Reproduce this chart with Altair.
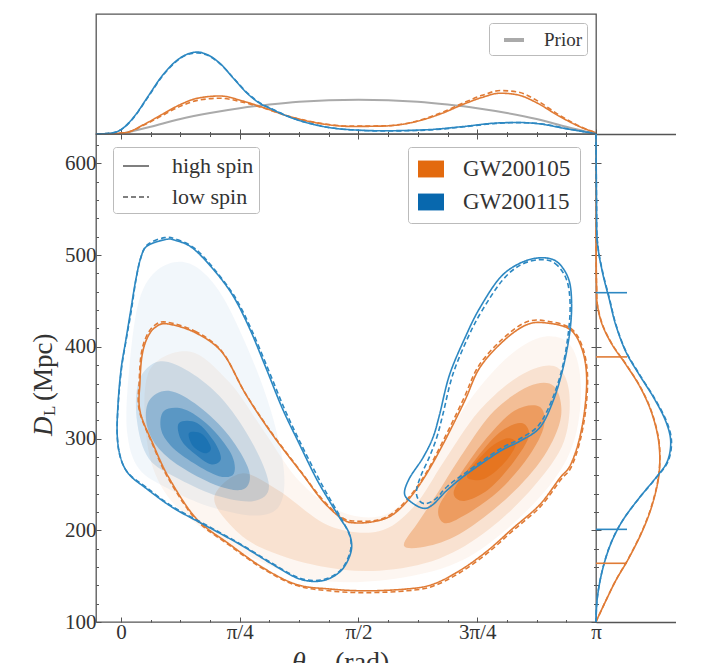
import math
import altair as alt
import pandas as pd

PI = math.pi

EVENTS = ["GW200105", "GW200115"]
SPINS = ["high spin", "low spin"]
PRIOR_LABEL = ["Prior"]
X_TICK_LABELS = ["0", "π/4", "π/2", "3π/4", "π"]

# ---------------- main panel: 90% contours (theta_JN [rad], D_L [Mpc]) ----------------
gw105_high = [(0.307, 425), (0.497, 415), (0.674, 393), (0.826, 348), (1.003, 304), (1.201, 261),
              (1.334, 232), (1.467, 212), (1.555, 208), (1.688, 210), (1.798, 217), (1.909, 235),
              (2.019, 261), (2.140, 297), (2.273, 341), (2.372, 377), (2.527, 406), (2.682, 424),
              (2.814, 426), (2.969, 419), (3.046, 399), (3.079, 370), (3.068, 333), (3.028, 297),
              (2.969, 270), (2.903, 257), (2.770, 228), (2.591, 202), (2.419, 177), (2.240, 156),
              (2.061, 141), (1.889, 136), (1.624, 134), (1.378, 136), (1.160, 141), (0.941, 159),
              (0.716, 185), (0.497, 213), (0.318, 257), (0.212, 294), (0.126, 330), (0.126, 362),
              (0.139, 390), (0.172, 409), (0.225, 421)]
gw105_low = [(0.300, 427), (0.490, 417), (0.668, 395), (0.820, 350), (0.998, 306), (1.195, 263),
             (1.330, 234), (1.460, 214), (1.550, 210), (1.690, 211), (1.800, 219), (1.910, 237),
             (2.020, 263), (2.135, 299), (2.265, 343), (2.365, 379), (2.520, 408), (2.680, 427),
             (2.820, 428), (2.975, 420), (3.052, 400), (3.085, 370), (3.074, 332), (3.034, 296),
             (2.975, 268), (2.908, 255), (2.775, 226), (2.595, 200), (2.423, 175), (2.243, 154),
             (2.063, 139), (1.890, 134), (1.620, 132), (1.375, 134), (1.158, 140), (0.940, 158),
             (0.714, 184), (0.495, 212), (0.315, 256), (0.208, 294), (0.121, 331), (0.121, 363),
             (0.134, 392), (0.167, 411), (0.220, 423)]
gw115_left_high = [(0.296, 517), (0.362, 516), (0.471, 508), (0.603, 486), (0.736, 457), (0.848, 421),
                   (0.959, 377), (1.067, 333), (1.180, 294), (1.290, 257), (1.378, 232), (1.445, 214),
                   (1.511, 196), (1.522, 177), (1.456, 156), (1.332, 145), (1.180, 147), (1.001, 163),
                   (0.782, 185), (0.561, 205), (0.340, 225), (0.164, 246), (0.053, 261), (-0.002, 279),
                   (-0.025, 305), (-0.018, 341), (0.002, 377), (0.031, 406), (0.064, 439), (0.097, 472),
                   (0.131, 497), (0.174, 510)]
gw115_left_low = [(0.290, 519), (0.370, 517), (0.490, 507), (0.620, 484), (0.755, 454), (0.865, 418),
                  (0.975, 375), (1.085, 331), (1.200, 291), (1.315, 254), (1.400, 229), (1.460, 212),
                  (1.515, 193), (1.515, 176), (1.450, 156), (1.330, 146), (1.180, 148), (1.000, 164),
                  (0.780, 186), (0.560, 206), (0.340, 226), (0.165, 247), (0.050, 262), (-0.005, 280),
                  (-0.025, 306), (-0.016, 342), (0.005, 378), (0.035, 408), (0.070, 441), (0.100, 474),
                  (0.135, 499), (0.180, 512)]
gw115_right_high = [(2.770, 497), (2.881, 493), (2.958, 475), (2.980, 450), (2.969, 417), (2.924, 377),
                    (2.858, 341), (2.770, 312), (2.637, 297), (2.505, 286), (2.284, 261), (2.152, 243),
                    (2.063, 228), (1.997, 224), (1.909, 232), (1.875, 241), (1.909, 257), (1.997, 279),
                    (2.063, 301), (2.107, 326), (2.174, 370), (2.284, 413), (2.372, 442), (2.505, 475),
                    (2.637, 491)]
gw115_right_low = [(2.770, 495), (2.870, 491), (2.945, 474), (2.970, 449), (2.960, 417), (2.920, 378),
                   (2.850, 342), (2.760, 314), (2.630, 299), (2.500, 288), (2.290, 264), (2.160, 248),
                   (2.080, 234), (2.010, 229), (1.965, 234), (1.955, 244), (1.985, 260), (2.040, 280),
                   (2.090, 302), (2.130, 327), (2.195, 370), (2.300, 412), (2.390, 440), (2.520, 472),
                   (2.640, 489)]

# ---------------- main panel: density shading, iso-density outlines (outer -> inner) ----------------
gw105_shade = [
    [(0.185, 373), (0.450, 395), (0.714, 362), (0.946, 308), (1.177, 254), (1.442, 221), (1.706, 215),
     (1.905, 237), (2.103, 286), (2.302, 341), (2.566, 390), (2.798, 411), (2.976, 401), (3.042, 357),
     (2.996, 297), (2.831, 248), (2.500, 194), (2.169, 161), (1.706, 145), (1.243, 147), (0.847, 172),
     (0.516, 205), (0.284, 243), (0.172, 297)],
    [(0.620, 238), (0.800, 262), (1.045, 243), (1.376, 205), (1.706, 199), (1.938, 226), (2.136, 275),
     (2.368, 330), (2.632, 368), (2.864, 379), (2.963, 352), (2.930, 297), (2.731, 248), (2.434, 201),
     (2.103, 169), (1.706, 156), (1.310, 161), (0.913, 182), (0.700, 210)],
    [(1.971, 210), (2.103, 243), (2.269, 286), (2.467, 330), (2.698, 357), (2.864, 357), (2.910, 324),
     (2.798, 281), (2.566, 237), (2.269, 199), (2.037, 183), (1.872, 183)],
    [(2.103, 226), (2.235, 259), (2.401, 297), (2.599, 330), (2.765, 335), (2.798, 314), (2.698, 281),
     (2.500, 243), (2.269, 216), (2.136, 208)],
    [(2.202, 243), (2.335, 275), (2.500, 306), (2.646, 317), (2.698, 303), (2.599, 275), (2.434, 245),
     (2.269, 232)],
    [(2.288, 259), (2.414, 286), (2.546, 300), (2.612, 294), (2.533, 273), (2.401, 256)],
]
gw115_shade = [
    [(0.119, 450), (0.251, 485), (0.450, 491), (0.648, 461), (0.847, 395), (0.992, 330), (1.078, 265),
     (1.045, 226), (0.880, 216), (0.582, 226), (0.317, 245), (0.119, 267), (0.040, 308), (0.053, 373)],
    [(0.119, 363), (0.251, 384), (0.450, 373), (0.681, 341), (0.880, 292), (0.979, 248), (0.880, 232),
     (0.648, 237), (0.384, 256), (0.185, 278), (0.106, 319)],
    [(0.185, 341), (0.317, 352), (0.516, 335), (0.714, 303), (0.847, 265), (0.813, 245), (0.648, 248),
     (0.417, 267), (0.251, 289), (0.172, 314)],
    [(0.284, 330), (0.417, 332), (0.582, 314), (0.727, 284), (0.747, 262), (0.648, 259), (0.483, 273),
     (0.331, 292), (0.265, 310)],
    [(0.384, 317), (0.503, 317), (0.615, 297), (0.661, 278), (0.595, 272), (0.483, 284), (0.397, 299)],
    [(0.450, 306), (0.536, 305), (0.595, 290), (0.556, 284), (0.476, 292)],
]

# ---------------- top panel: theta_JN marginals (theta [rad], relative density) ----------------
top_gw115_high = [(-0.165, 0), (-0.062, 0.008), (0.0, 0.036), (0.088, 0.146), (0.178, 0.311), (0.267, 0.476),
                  (0.357, 0.600), (0.446, 0.669), (0.506, 0.683), (0.566, 0.664), (0.656, 0.587),
                  (0.745, 0.463), (0.835, 0.339), (0.925, 0.250), (0.984, 0.215), (1.104, 0.146),
                  (1.283, 0.077), (1.462, 0.041), (1.731, 0.027), (2.030, 0.036), (2.269, 0.063),
                  (2.478, 0.091), (2.627, 0.096), (2.777, 0.083), (2.956, 0.041), (3.1416, 0.003)]
top_gw115_low = [(-0.165, 0), (-0.062, 0.008), (0.0, 0.036), (0.088, 0.142), (0.178, 0.305), (0.267, 0.470),
                 (0.357, 0.595), (0.446, 0.665), (0.506, 0.676), (0.566, 0.660), (0.656, 0.585),
                 (0.745, 0.465), (0.835, 0.343), (0.925, 0.255), (0.984, 0.218), (1.104, 0.148),
                 (1.283, 0.078), (1.462, 0.040), (1.731, 0.025), (2.030, 0.033), (2.269, 0.060),
                 (2.478, 0.088), (2.627, 0.095), (2.777, 0.085), (2.956, 0.043), (3.1416, 0.003)]
top_gw105_high = [(-0.165, 0), (0.028, 0.011), (0.148, 0.077), (0.267, 0.160), (0.387, 0.242), (0.506, 0.298),
                  (0.655, 0.317), (0.805, 0.275), (0.954, 0.215), (1.104, 0.150), (1.283, 0.095),
                  (1.522, 0.063), (1.731, 0.066), (1.940, 0.100), (2.119, 0.170), (2.269, 0.250),
                  (2.389, 0.305), (2.508, 0.340), (2.627, 0.325), (2.747, 0.262), (2.896, 0.150),
                  (3.045, 0.055), (3.1416, 0.010)]
top_gw105_low = [(-0.165, 0), (0.028, 0.011), (0.148, 0.072), (0.267, 0.150), (0.387, 0.228), (0.506, 0.280),
                 (0.655, 0.298), (0.805, 0.265), (0.954, 0.212), (1.104, 0.150), (1.283, 0.097),
                 (1.522, 0.066), (1.731, 0.068), (1.940, 0.102), (2.119, 0.178), (2.269, 0.262),
                 (2.389, 0.322), (2.508, 0.362), (2.627, 0.350), (2.747, 0.282), (2.896, 0.160),
                 (3.045, 0.058), (3.1416, 0.010)]
top_prior = [(0.0, 0), (0.196, 0.06), (0.393, 0.125), (0.589, 0.175), (0.785, 0.215), (0.982, 0.245),
             (1.178, 0.268), (1.374, 0.281), (1.571, 0.285), (1.767, 0.281), (1.963, 0.268), (2.160, 0.245),
             (2.356, 0.215), (2.553, 0.175), (2.749, 0.125), (2.945, 0.06), (3.1416, 0)]

# ---------------- right panel: D_L marginals (relative density, D_L [Mpc]) ----------------
right_gw115_high = [(0.0, 632), (0.005, 560), (0.013, 515), (0.063, 482), (0.130, 453), (0.197, 424),
                    (0.297, 395), (0.430, 370), (0.580, 344), (0.697, 319), (0.747, 297), (0.713, 275),
                    (0.597, 257), (0.430, 235), (0.263, 210), (0.147, 185), (0.063, 156), (0.013, 126),
                    (0.0, 100)]
right_gw115_low = [(0.0, 632), (0.005, 560), (0.014, 515), (0.066, 482), (0.134, 453), (0.200, 424),
                   (0.300, 395), (0.435, 370), (0.585, 344), (0.705, 319), (0.755, 297), (0.720, 275),
                   (0.600, 257), (0.432, 235), (0.262, 210), (0.145, 185), (0.062, 156), (0.012, 126),
                   (0.0, 100)]
right_gw105_high = [(0.001, 632), (0.002, 500), (0.006, 464), (0.013, 446), (0.063, 424), (0.163, 402),
                    (0.297, 381), (0.447, 355), (0.563, 326), (0.630, 294), (0.630, 261), (0.563, 228),
                    (0.463, 199), (0.330, 170), (0.197, 145), (0.080, 119), (0.003, 101)]
right_gw105_low = [(0.001, 632), (0.002, 500), (0.006, 464), (0.014, 446), (0.066, 424), (0.166, 402),
                   (0.300, 381), (0.450, 355), (0.566, 326), (0.633, 294), (0.628, 261), (0.560, 228),
                   (0.460, 199), (0.328, 170), (0.196, 145), (0.080, 119), (0.003, 101)]
# 90% credible bounds on D_L [Mpc]
interval_gw105 = [164, 389]
interval_gw115 = [201, 459]
INTERVAL_LEN = 0.31

# ---------------- styles ----------------
FILL_COLORS = ["#E36A0E", "#0868AE"]
LINE_COLORS = ["#E07B35", "#2D88C2"]
ALPHA_ORANGE = [0.06, 0.14, 0.30, 0.40, 0.50, 0.55]
ALPHA_BLUE = [0.05, 0.15, 0.30, 0.40, 0.50, 0.50]
FONT = "Liberation Serif"
TXT = "#333333"
AXC = "#555555"
MAIN_W, MAIN_H, SIDE_W, TOP_H = 500, 488, 108, 120

# ---------------- data frames ----------------
def rows_xy(points, xname, yname, **extra):
    return [dict(order=i, **{xname: a, yname: b}, **extra) for i, (a, b) in enumerate(points)]

cont_o = pd.DataFrame(rows_xy(gw105_high, "theta", "dl", event=EVENTS[0], spin=SPINS[0], part="a")
                      + rows_xy(gw105_low, "theta", "dl", event=EVENTS[0], spin=SPINS[1], part="b"))
cont_b = pd.DataFrame(rows_xy(gw115_left_high, "theta", "dl", event=EVENTS[1], spin=SPINS[0], part="a")
                      + rows_xy(gw115_left_low, "theta", "dl", event=EVENTS[1], spin=SPINS[1], part="b")
                      + rows_xy(gw115_right_high, "theta", "dl", event=EVENTS[1], spin=SPINS[0], part="c")
                      + rows_xy(gw115_right_low, "theta", "dl", event=EVENTS[1], spin=SPINS[1], part="d"))
top_df = pd.DataFrame(rows_xy(top_gw105_high, "theta", "dens", event=EVENTS[0], spin=SPINS[0])
                      + rows_xy(top_gw105_low, "theta", "dens", event=EVENTS[0], spin=SPINS[1])
                      + rows_xy(top_gw115_high, "theta", "dens", event=EVENTS[1], spin=SPINS[0])
                      + rows_xy(top_gw115_low, "theta", "dens", event=EVENTS[1], spin=SPINS[1]))
prior_df = pd.DataFrame(rows_xy(top_prior, "theta", "dens", label=PRIOR_LABEL[0]))
right_df = pd.DataFrame(rows_xy(right_gw105_high, "dens", "dl", event=EVENTS[0], spin=SPINS[0])
                        + rows_xy(right_gw105_low, "dens", "dl", event=EVENTS[0], spin=SPINS[1])
                        + rows_xy(right_gw115_high, "dens", "dl", event=EVENTS[1], spin=SPINS[0])
                        + rows_xy(right_gw115_low, "dens", "dl", event=EVENTS[1], spin=SPINS[1]))
ci_df = pd.DataFrame([dict(event=EVENTS[0], dl=v, d0=0.0, d1=INTERVAL_LEN) for v in interval_gw105]
                     + [dict(event=EVENTS[1], dl=v, d0=0.0, d1=INTERVAL_LEN) for v in interval_gw115])

# ---------------- scales & axes ----------------
xs = alt.Scale(domain=[-0.165, PI], nice=False, zero=False)
ys = alt.Scale(domain=[100, 632], nice=False, zero=False)
ds_top = alt.Scale(domain=[0, 1], nice=False, zero=False)
# side panel sits just right of the main panel, sharing its D_L axis
ds_side = alt.Scale(domain=[0, 1.08], range=[MAIN_W, MAIN_W + SIDE_W], nice=False, zero=False)
fill_scale = alt.Scale(domain=EVENTS, range=FILL_COLORS)
stroke_scale = alt.Scale(domain=EVENTS, range=LINE_COLORS)
dash_scale = alt.Scale(domain=SPINS, range=[[1, 0], [5, 3]])

x_major = [0, PI / 4, PI / 2, 3 * PI / 4, PI]
x_minor = [k * PI / 16 for k in range(0, 17) if k % 4 != 0]
y_major = [100, 200, 300, 400, 500, 600]
y_minor = [v for v in range(120, 632, 20) if v % 100 != 0]
label_expr = "[" + ",".join(f"'{s}'" for s in X_TICK_LABELS) + "][round(datum.index*4)]"


def ax(orient, values, size, labels=False, inward=True, **kw):
    d = dict(orient=orient, values=values, tickSize={"expr": str(-size)} if inward else size,
             labels=labels, domain=False, grid=False, title=None, tickColor=AXC, tickWidth=1)
    d.update(kw)
    return alt.Axis(**d)


def frame_axis(orient):
    return alt.Axis(orient=orient, ticks=False, labels=False, grid=False, title=None,
                    domainColor=AXC, domainWidth=1.3)


AX_X_BOTTOM = ax("bottom", x_major, 5, labels=True, labelExpr=label_expr, labelPadding=4,
                 labelFlush=False, labelOverlap=False)
AX_Y_LEFT = ax("left", y_major, 5, labels=True, labelPadding=5)

event_legend = alt.Legend(orient="none", legendX=312, legendY=13, title=None,
                          symbolType="M-1,-0.65H1V0.65H-1Z", symbolSize=676, symbolStrokeWidth=0,
                          symbolOpacity=1, symbolOffset=1, labelFont=FONT, labelFontSize=23,
                          labelColor=TXT, labelOffset=19, rowPadding=8, padding=9,
                          fillColor="white", strokeColor="#bbbbbb", cornerRadius=3)
spin_legend = alt.Legend(orient="none", legendX=17, legendY=13, title=None, symbolType="stroke",
                         symbolSize=676, symbolStrokeWidth=1.6, symbolStrokeColor="#555555",
                         symbolOffset=4, labelFont=FONT, labelFontSize=22, labelColor=TXT,
                         labelOffset=22, rowPadding=6, padding=5, fillColor="white",
                         strokeColor="#bbbbbb", cornerRadius=3)
prior_legend = alt.Legend(orient="none", legendX=393, legendY=9, title=None, symbolType="stroke",
                          symbolSize=400, symbolStrokeWidth=4, symbolOffset=8, labelFont=FONT,
                          labelFontSize=19, labelColor=TXT, labelOffset=18, padding=5,
                          fillColor="white", strokeColor="#bbbbbb", cornerRadius=3)

# ---------------- main panel (with the D_L marginal attached on its right) ----------------
def shade_layers(levels, event, alphas, axx, axy):
    layers = []
    for i, pts in enumerate(levels):
        df = pd.DataFrame(rows_xy(pts, "theta", "dl", event=event))
        layers.append(
            alt.Chart(df).mark_line(strokeWidth=0, strokeOpacity=0, fillOpacity=alphas[i],
                                    interpolate="cardinal-closed").encode(
                x=alt.X("theta:Q", scale=xs, axis=axx if i == 0 else None),
                y=alt.Y("dl:Q", scale=ys, axis=axy if i == 0 else None),
                fill=alt.Fill("event:N", scale=fill_scale, legend=event_legend),
                order="order:Q",
            )
        )
    return layers


def contour_layer(df, axx, axy):
    return alt.Chart(df).mark_line(strokeWidth=1.6, interpolate="cardinal-closed").encode(
        x=alt.X("theta:Q", scale=xs, axis=axx),
        y=alt.Y("dl:Q", scale=ys, axis=axy),
        stroke=alt.Stroke("event:N", scale=stroke_scale, legend=None),
        strokeDash=alt.StrokeDash("spin:N", scale=dash_scale, legend=spin_legend),
        detail="part:N",
        order="order:Q",
    )


def label(text, x, y, size, style="normal", angle=0, clip=False):
    return alt.Chart(pd.DataFrame({"t": [text]})).mark_text(
        font=FONT, fontSize=size, fontStyle=style, color=TXT, angle=angle, clip=clip,
        align="left", baseline="alphabetic").encode(text="t:N", x=alt.value(x), y=alt.value(y))


side_lines = alt.Chart(right_df).mark_line(strokeWidth=1.6, interpolate="cardinal").encode(
    x=alt.X("dens:Q", scale=ds_side, axis=frame_axis("bottom")),
    y=alt.Y("dl:Q", scale=ys, axis=ax("right", y_major, 5, inward=False)),
    stroke=alt.Stroke("event:N", scale=stroke_scale, legend=None),
    strokeDash=alt.StrokeDash("spin:N", scale=dash_scale, legend=spin_legend),
    detail="spin:N",
    order="order:Q",
)
side_ci = alt.Chart(ci_df).mark_rule(strokeWidth=1.6).encode(
    x=alt.X("d0:Q", scale=ds_side, axis=frame_axis("top")),
    x2="d1:Q",
    y=alt.Y("dl:Q", scale=ys, axis=ax("right", y_minor, 2.5, inward=False)),
    stroke=alt.Stroke("event:N", scale=stroke_scale, legend=None),
)

main = alt.layer(
    *shade_layers(gw105_shade, EVENTS[0], ALPHA_ORANGE, AX_X_BOTTOM, AX_Y_LEFT),
    *shade_layers(gw115_shade, EVENTS[1], ALPHA_BLUE, ax("bottom", x_minor, 2.5), ax("left", y_minor, 2.5)),
    contour_layer(cont_o, ax("top", x_major, 5), ax("right", y_major, 5)),
    contour_layer(cont_b, ax("top", x_minor, 2.5), ax("right", y_minor, 2.5)),
    side_lines,
    side_ci,
    label("D", -44, 302, 27, "italic", 270),
    label("L", -41, 282, 17, "normal", 270),
    label("(Mpc)", -44, 267, 27, "normal", 270),
).resolve_scale(x="independent").resolve_axis(x="independent", y="independent").properties(
    width=MAIN_W, height=MAIN_H)

# x-axis title strip (its lower part falls outside the page, as in the original crop)
title_row = alt.layer(
    label("θ", 196, 49, 28, "italic", clip=True),
    label("JN", 213, 54, 19, "italic", clip=True),
    label("(rad)", 239, 49, 28, "normal", clip=True),
).properties(width=MAIN_W, height=41, view=alt.ViewBackground(stroke="transparent"))

# ---------------- top panel ----------------
prior_line = alt.Chart(prior_df).mark_line(strokeWidth=2, interpolate="monotone").encode(
    x=alt.X("theta:Q", scale=xs, axis=ax("bottom", x_minor, 2.5)),
    y=alt.Y("dens:Q", scale=ds_top, axis=None),
    stroke=alt.Stroke("label:N", scale=alt.Scale(domain=PRIOR_LABEL, range=["#aaaaaa"]),
                      legend=prior_legend),
    order="order:Q",
)
top_lines = alt.Chart(top_df).mark_line(strokeWidth=1.6, interpolate="monotone").encode(
    x=alt.X("theta:Q", scale=xs, axis=ax("bottom", x_major, 5)),
    y=alt.Y("dens:Q", scale=ds_top, axis=None),
    stroke=alt.Stroke("event:N", scale=stroke_scale, legend=None),
    strokeDash=alt.StrokeDash("spin:N", scale=dash_scale, legend=None),
    order="order:Q",
)
top = alt.layer(prior_line, top_lines).resolve_scale(stroke="independent").resolve_axis(
    x="independent").properties(width=MAIN_W, height=TOP_H)

chart = alt.vconcat(top, main, title_row, spacing=0, bounds="flush").resolve_scale(
    stroke="independent", strokeDash="independent", fill="independent"
).properties(
    padding={"left": 21, "top": 5, "right": 0, "bottom": 0}
).configure_view(stroke=AXC, strokeWidth=1.3).configure_axis(
    labelFont=FONT, labelFontSize=21, labelColor=TXT
)

chart.save("out.html", embed_options={"renderer": "svg", "actions": False})
